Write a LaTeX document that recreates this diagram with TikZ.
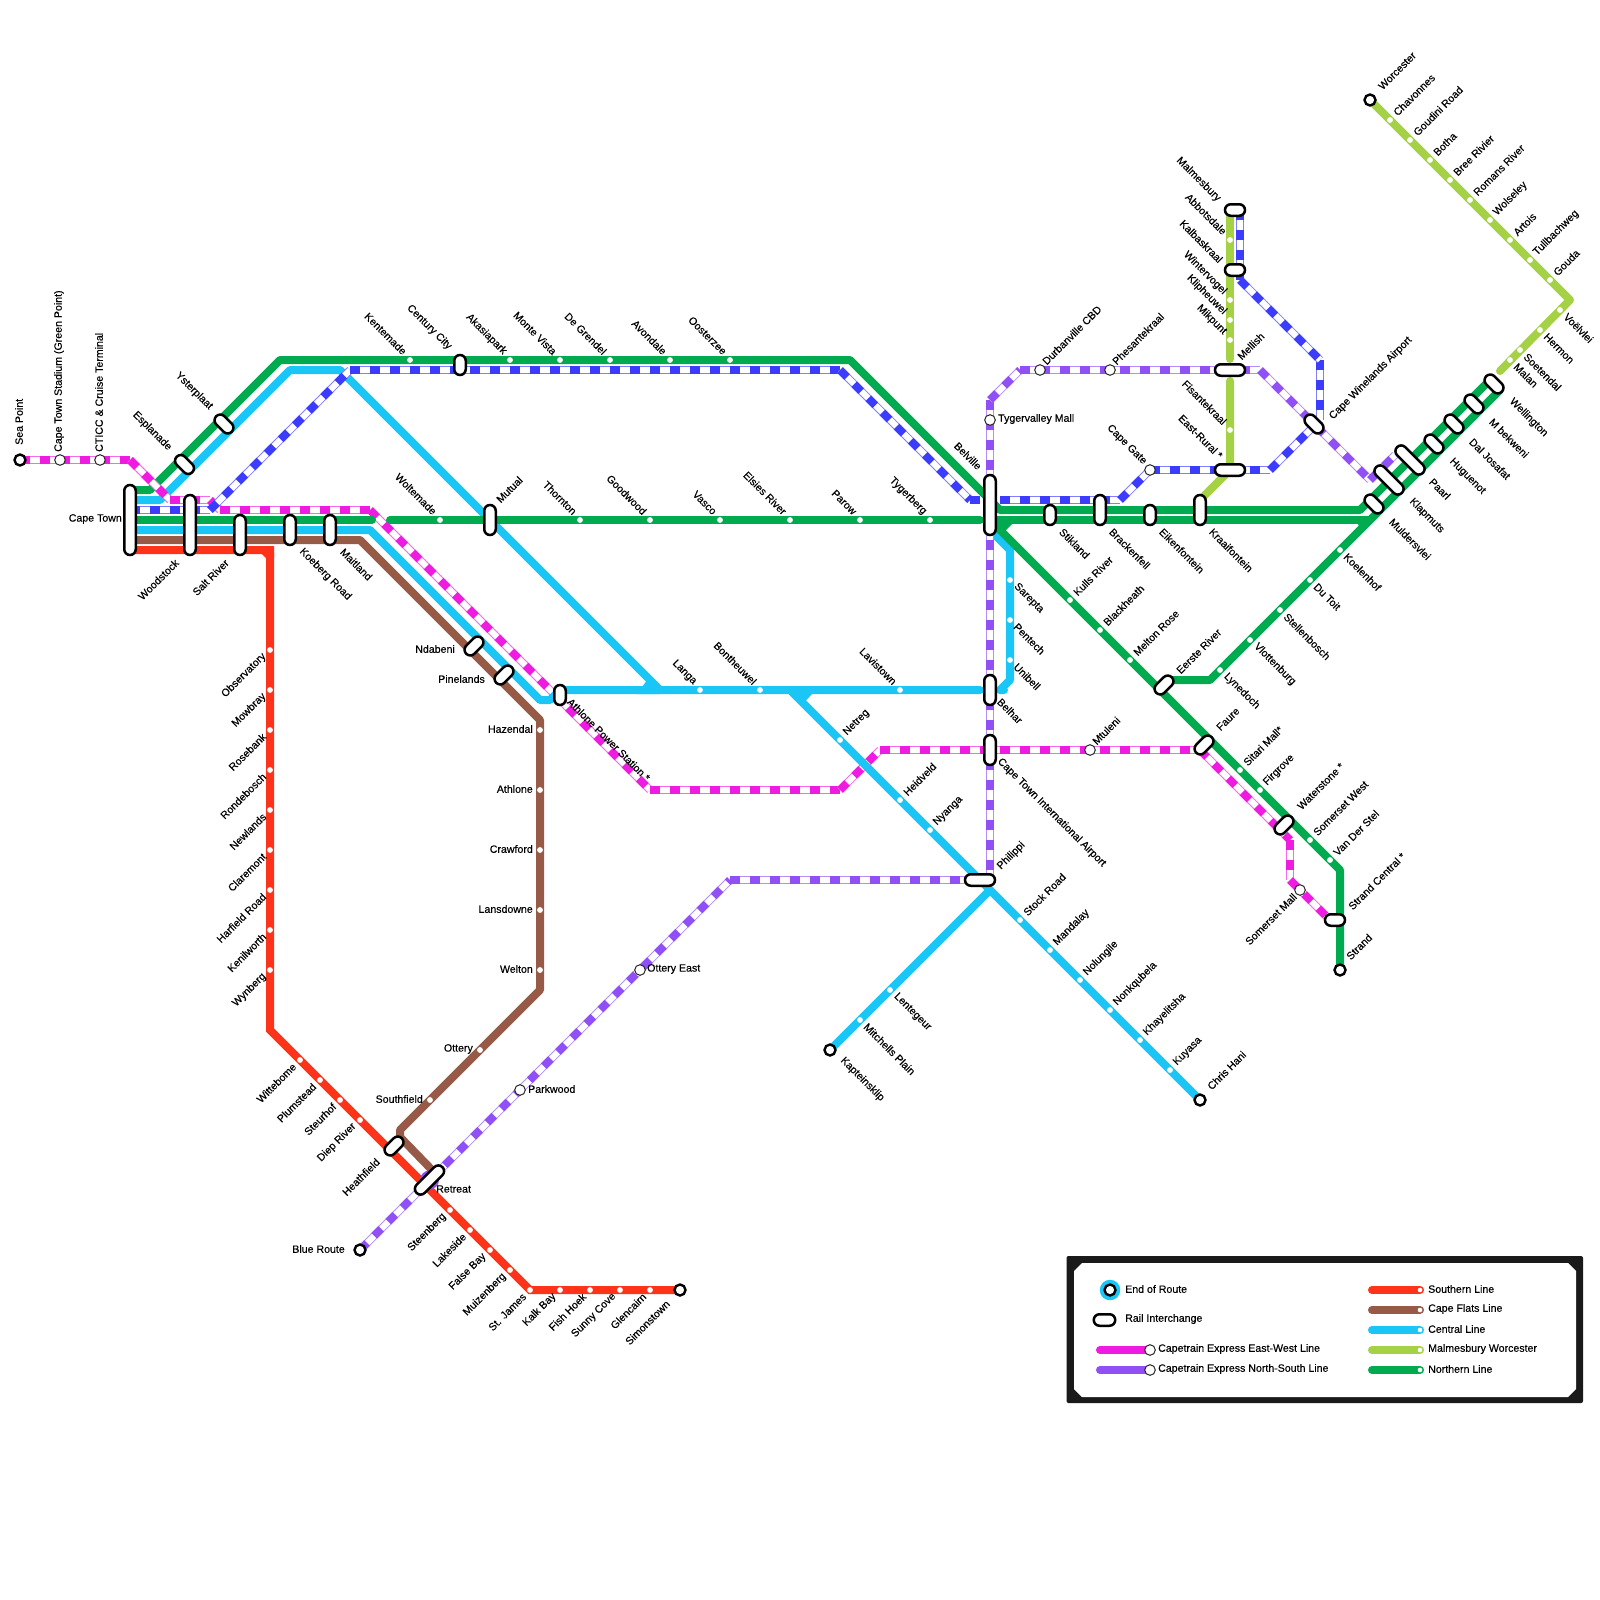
\documentclass[tikz,border=0pt]{standalone}
\usepackage{fontspec}
\setmainfont{Liberation Sans}[FakeBold=0.3]
\usetikzlibrary{shapes.misc}
\definecolor{cRed}{HTML}{FF331A}
\definecolor{cBrown}{HTML}{965A46}
\definecolor{cCyan}{HTML}{1AC6F5}
\definecolor{cLime}{HTML}{A5D145}
\definecolor{cGreen}{HTML}{00AB50}
\definecolor{cMag}{HTML}{F01BE0}
\definecolor{cPur}{HTML}{9150F5}
\definecolor{cBlue}{HTML}{3C3CFF}
\definecolor{cFrame}{HTML}{1A1A1A}
\tikzset{
  railline/.style={draw=#1,line width=8pt,line cap=round,line join=round},
  express/.style={draw=#1,line width=8pt,line cap=butt,dash pattern=on 10pt off 10pt,
    preaction={draw=#1!65,line width=8pt,solid,line cap=butt},
    preaction={draw=white,line width=6pt,solid,line cap=butt}},
  dotst/.style={circle,fill=white,draw=none,minimum size=5.8pt,inner sep=0pt},
  xst/.style={circle,fill=white,draw=black!85,line width=1pt,minimum size=10.6pt,inner sep=0pt},
  termst/.style={circle,fill=white,draw=black,line width=2.4pt,minimum size=11pt,inner sep=0pt},
  ichg/.style={rounded rectangle,draw=black,fill=white,line width=2.5pt,inner sep=0pt,minimum height=11.5pt,minimum width=#1},
  txt/.style={font=\fontsize{10.6}{11}\selectfont,inner sep=0pt,text=black},
  NE/.style={txt,rotate=45,anchor=west},
  NW/.style={txt,rotate=-45,anchor=east},
  SW/.style={txt,rotate=45,anchor=east},
  SE/.style={txt,rotate=-45,anchor=west},
  TR/.style={txt,anchor=west},
  TL/.style={txt,anchor=east},
  UP/.style={txt,rotate=90,anchor=west},
  ne/.style={NE,xshift=7.8pt,yshift=0.7pt},
  nw/.style={NW,xshift=-8.5pt,yshift=1.4pt},
  sw/.style={SW,xshift=-7.4pt,yshift=0.5pt},
  se/.style={SE,xshift=7.4pt,yshift=0.4pt},
  tl/.style={TL,xshift=-7pt,yshift=1pt},
}
\newcommand{\mystn}[5]{\node[dotst] (#1) at (#2,#3) {};\node[#4] (#1-l) at (#1) {#5};}
\newcommand{\myxst}[3]{\node[xst] (#1) at (#2,#3) {};}
\newcommand{\myterm}[3]{\node[termst] (#1) at (#2,#3) {};}
\newcommand{\myic}[5]{\node[ichg=#4pt+2.5pt,rotate=#5] (#1) at (#2,#3) {};}
\newcommand{\mylab}[5]{\node[#4] (#1) at (#2,#3) {#5};}
\begin{document}
\begin{tikzpicture}[x=1pt,y=-1pt]
\useasboundingbox (0,0) rectangle (1600,1600);
% way points
\foreach \n/\x/\y in {
 ga/130/490,gb/150/490,gc/280/360,gd/850/360,ge/1000/510,gf/1360/510,gg/1490/380,
 gh/130/520,gi/372/520,gj/390/520,gk/980/520,gl/1370/520,gm/995/520,gn/990/520,go/1340/870,gp/1340/970,
 gq/1170/680,gr/1210/680,gs/1500/390,
 ca/130/500,cb/160/500,cc/290/370,cd/340/370,ce/660/690,cf/980/690,cg/1004/690,ch/1000/690,ci/1010/680,cj/1010/550,ck/990/530,
 cl/130/530,cm/370/530,cn/540/700,co/550/700,cp/560/690,cq/790/690,cr/1200/1100,cs/990/890,ct/830/1050,
 ba/130/540,bb/360/540,bc/540/720,bd/540/990,be/400/1130,bf/400/1137,bg/432/1170,
 ra/130/550,rb/266/550,rc/270/554,rd/270/1030,re/530/1290,rf/680/1290,
 la/1230/210,lb/1230/359,lc/1230/381,ld/1230/470,le/1200/500,wa/1370/100,wb/1570/300,wc/1500/371,
 ma/20/460,mb/130/460,mc/170/500,md/210/500,me/220/510,mf/370/510,mg/650/790,mh/840/790,mi/880/750,mj/1200/750,mk/1290/840,ml/1290/880,mm/1330/920,
 ua/130/510,ub/210/510,uc/350/370,ud/840/370,ue/970/500,uf/980/500,ug/1000/500,uh/1120/500,ui/1150/470,uj/1270/470,uk/1320/420,ul/1320/360,um/1240/280,un/1240/210,
 pa/360/1250,pb/730/880,pc/990/880,pd/990/400,pe/1020/370,pf/1260/370,pg/1370/480,ph/1395/455}
 {\coordinate (\n) at (\x,\y);}
% express lines under the central crossing
\foreach \a/\b/\c in {ma/mb/cMag,mb/mc/cMag,mc/md/cMag,md/me/cMag,me/mf/cMag,mf/mg/cMag,mg/mh/cMag,mh/mi/cMag,mi/mj/cMag,mj/mk/cMag,mk/ml/cMag,ml/mm/cMag}
 {\path[express=\c] (\a) -- (\b);}
% solid lines
\draw[railline=cRed,line join=miter] (ra) -- (rb) -- (rc) -- (rd) -- (re) -- (rf);
\fill[cRed] (262,546) -- (274,546) -- (274,558) -- (266,558) -- (262,554) -- cycle;
\draw[railline=cBrown] (ba) -- (bb) -- (bc) -- (bd) -- (be) -- (bf) -- (bg);
\draw[railline=cCyan] (ca) -- (cb) -- (cc) -- (cd) -- (ce) -- (cf);
\draw[railline=cCyan] (cg) -- (ch) -- (ci) -- (cj) -- (ck);
\draw[railline=cCyan] (cl) -- (cm) -- (cn) -- (co) -- (cp) -- (ce);
\draw[railline=cCyan] (cq) -- (cr);
\draw[railline=cCyan] (cs) -- (ct);
\fill[cCyan] (637,694) -- (660,694) -- (650,676) -- cycle;
\fill[cCyan] (789,686) -- (812,686) -- (812,694) -- (801,706) -- cycle;
\draw[railline=cLime] (la) -- (lb);
\draw[railline=cLime] (lc) -- (ld) -- (le);
\draw[railline=cLime] (wa) -- (wb) -- (wc);
\draw[railline=cGreen] (ga) -- (gb) -- (gc) -- (gd) -- (ge) -- (gf) -- (gg);
\draw[railline=cGreen] (gh) -- (gi);
\draw[railline=cGreen] (gj) -- (gk);
\draw[railline=cGreen] (gm) -- (gl);
\draw[railline=cGreen] (gn) -- (go) -- (gp);
\draw[railline=cGreen] (gq) -- (gr) -- (gs);
\fill[cGreen] (1352,516) -- (1374,516) -- (1365,530) -- (1362,530) -- cycle;
\fill[cGreen] (998,516) -- (1020,516) -- (1012,524) -- (1003,533) -- (998,528) -- cycle;
% express lines on top
\foreach \a/\b/\c in {ma/mb/cMag,mb/mc/cMag,mc/md/cMag,md/me/cMag,me/mf/cMag,
 ua/ub/cBlue,ub/uc/cBlue,uc/ud/cBlue,ud/ue/cBlue,ue/uf/cBlue,ug/uh/cBlue,uh/ui/cBlue,ui/uj/cBlue,uj/uk/cBlue,ul/uk/cBlue,um/ul/cBlue,un/um/cBlue,
 pa/pb/cPur,pb/pc/cPur,pd/pc/cPur,pd/pe/cPur,pe/pf/cPur,pf/pg/cPur,pg/ph/cPur}
 {\path[express=\c] (\a) -- (\b);}
\fill[cPur] (429.5,1180) circle (9.5pt);
% northern stations
\mystn{kent}{410}{360}{nw}{Kentemade}
\mystn{akas}{510}{360}{nw}{Akasiapark}
\mystn{mont}{560}{360}{nw}{Monte Vista}
\mystn{degr}{610}{360}{nw}{De Grendel}
\mystn{avon}{670}{360}{nw}{Avondale}
\mystn{oost}{730}{360}{nw}{Oosterzee}
\mystn{wolt}{440}{520}{nw}{Woltemade}
\mystn{thor}{580}{520}{nw}{Thornton}
\mystn{good}{650}{520}{nw}{Goodwood}
\mystn{vasc}{720}{520}{nw}{Vasco}
\mystn{elsi}{790}{520}{nw}{Elsies River}
\mystn{paro}{860}{520}{nw}{Parow}
\mystn{tyge}{930}{520}{nw}{Tygerberg}
\mystn{kull}{1070}{600}{ne}{Kulls River}
\mystn{blac}{1100}{630}{ne}{Blackheath}
\mystn{melt}{1130}{660}{ne}{Melton Rose}
\mystn{sita}{1240}{770}{ne}{Sitari Mall*}
\mystn{firg}{1260}{790}{ne}{Firgrove}
\mystn{some}{1310}{840}{ne}{Somerset West}
\mystn{vand}{1330}{860}{ne}{Van Der Stel}
\mystn{koel}{1340}{550}{se}{Koelenhof}
\mystn{duto}{1310}{580}{se}{Du Toit}
\mystn{stel}{1280}{610}{se}{Stellenbosch}
\mystn{vlot}{1250}{640}{se}{Vlottenburg}
\mystn{lyne}{1220}{670}{se}{Lynedoch}
% central stations
\mystn{lang}{700}{690}{nw}{Langa}
\mystn{bont}{760}{690}{nw}{Bontheuwel}
\mystn{lavi}{900}{690}{nw}{Lavistown}
\mystn{sare}{1010}{580}{se}{Sarepta}
\mystn{pent}{1010}{620}{se}{Pentech}
\mystn{unib}{1010}{660}{se}{Unibell}
\mystn{netr}{840}{740}{ne}{Netreg}
\mystn{heid}{900}{800}{ne}{Heidveld}
\mystn{nyan}{930}{830}{ne}{Nyanga}
\mystn{stoc}{1020}{920}{ne}{Stock Road}
\mystn{mand}{1050}{950}{ne}{Mandalay}
\mystn{nolu}{1080}{980}{ne}{Nolungile}
\mystn{nonk}{1110}{1010}{ne}{Nonkqubela}
\mystn{khay}{1140}{1040}{ne}{Khayelitsha}
\mystn{kuya}{1170}{1070}{ne}{Kuyasa}
\mystn{mitc}{860}{1020}{se}{Mitchells Plain}
\mystn{lent}{890}{990}{se}{Lentegeur}
% cape flats stations
\mystn{haze}{540}{730}{tl}{Hazendal}
\mystn{athl}{540}{790}{tl}{Athlone}
\mystn{craw}{540}{850}{tl}{Crawford}
\mystn{lans}{540}{910}{tl}{Lansdowne}
\mystn{welt}{540}{970}{tl}{Welton}
\mystn{otte}{480}{1050}{tl}{Ottery}
\mystn{sout}{430}{1100}{tl}{Southfield}
% southern stations
\mystn{obse}{270}{650}{sw}{Observatory}
\mystn{mowb}{270}{690}{sw}{Mowbray}
\mystn{rose}{270}{730}{sw}{Rosebank}
\mystn{rond}{270}{770}{sw}{Rondebosch}
\mystn{newl}{270}{810}{sw}{Newlands}
\mystn{clar}{270}{850}{sw}{Claremont}
\mystn{harf}{270}{890}{sw}{Harfield Road}
\mystn{keni}{270}{930}{sw}{Kenilworth}
\mystn{wynb}{270}{970}{sw}{Wynberg}
\mystn{witt}{300}{1060}{sw}{Wittebome}
\mystn{plum}{320}{1080}{sw}{Plumstead}
\mystn{steu}{340}{1100}{sw}{Steurhof}
\mystn{diep}{360}{1120}{sw}{Diep River}
\mystn{stee}{450}{1210}{sw}{Steenberg}
\mystn{lake}{470}{1230}{sw}{Lakeside}
\mystn{fals}{490}{1250}{sw}{False Bay}
\mystn{muiz}{510}{1270}{sw}{Muizenberg}
\mystn{stja}{530}{1290}{sw}{St. James}
\mystn{kalk}{560}{1290}{sw}{Kalk Bay}
\mystn{fish}{590}{1290}{sw}{Fish Hoek}
\mystn{sunn}{620}{1290}{sw}{Sunny Cove}
\mystn{glen}{650}{1290}{sw}{Glencairn}
% malmesbury / worcester stations
\mystn{abbo}{1230}{240}{nw}{Abbotsdale}
\mystn{wint}{1230}{300}{nw}{Wintervogel}
\mystn{klip}{1230}{320}{nw}{Klipheuwel}
\mystn{mikp}{1230}{340}{nw}{Mikpunt}
\mystn{fisa}{1230}{430}{nw}{Fisantekraal}
\mystn{chav}{1390}{120}{ne}{Chavonnes}
\mystn{goud}{1410}{140}{ne}{Goudini Road}
\mystn{both}{1430}{160}{ne}{Botha}
\mystn{bree}{1450}{180}{ne}{Bree Rivier}
\mystn{roma}{1470}{200}{ne}{Romans River}
\mystn{wols}{1490}{220}{ne}{Wolseley}
\mystn{arto}{1510}{240}{ne}{Artois}
\mystn{tulb}{1530}{260}{ne}{Tullbachweg}
\mystn{goua}{1550}{280}{ne}{Gouda}
\mystn{voel}{1560}{310}{se}{Voëlvlei}
\mystn{herm}{1540}{330}{se}{Hermon}
\mystn{soet}{1520}{350}{se}{Soetendal}
\mystn{mala}{1510}{360}{se}{Malan}
% express stations
\myxst{capest}{60}{460}
\myxst{cticc}{100}{460}
\myxst{tygv}{990}{420}
\myxst{durb}{1040}{370}
\myxst{phes}{1110}{370}
\myxst{capeg}{1150}{470}
\myxst{mtul}{1090}{750}
\myxst{smal}{1300}{890}
\myxst{otea}{640}{970}
\myxst{park}{520}{1090}
% terminals
\myterm{seap}{20}{460}
\myterm{simo}{680}{1290}
\myterm{blro}{360}{1250}
\myterm{stra}{1340}{970}
\myterm{kapt}{830}{1050}
\myterm{chri}{1200}{1100}
\myterm{worc}{1370}{100}
% interchanges
\myic{capet}{130}{520}{67.5}{90}
\myic{wood}{190}{525}{57.5}{90}
\myic{salt}{240}{535}{37.5}{90}
\myic{koeb}{290}{530}{27.5}{90}
\myic{mait}{330}{530}{27.5}{90}
\myic{cent}{460}{365}{17.5}{90}
\myic{mutu}{490}{520}{27.5}{90}
\myic{belv}{990}{505}{57.5}{90}
\myic{stik}{1050}{515}{17.5}{90}
\myic{brac}{1100}{510}{27.5}{90}
\myic{eike}{1150}{515}{17.5}{90}
\myic{krai}{1200}{510}{27.5}{90}
\myic{belh}{990}{690}{27.5}{90}
\myic{ctia}{990}{750}{27.5}{90}
\myic{apow}{560}{695}{17.5}{90}
\myic{malm}{1235}{210}{17.5}{0}
\myic{kalb}{1235}{270}{17.5}{0}
\myic{mell}{1230}{370}{27.5}{0}
\myic{east}{1230}{470}{27.5}{0}
\myic{phil}{980}{880}{27.5}{0}
\myic{scen}{1335}{920}{17.5}{0}
\myic{espl}{184.5}{464.5}{19.5}{-45}
\myic{yste}{224}{424}{19.5}{-45}
\myic{ndab}{474}{646}{19.5}{45}
\myic{pine}{504}{675}{19.5}{45}
\myic{heat}{394}{1146}{19.5}{45}
\myic{retr}{429.5}{1180}{34}{45}
\myic{eers}{1164}{685}{19.5}{45}
\myic{faur}{1204}{745}{19.5}{45}
\myic{wate}{1284}{825}{19.5}{45}
\myic{cwin}{1314}{424}{19.5}{-45}
\myic{muld}{1374}{504}{19.5}{-45}
\myic{klap}{1389}{480}{34}{-45}
\myic{paar}{1410}{460}{34}{-45}
\myic{hugu}{1434}{444}{19.5}{-45}
\myic{dalj}{1454}{424}{19.5}{-45}
\myic{mbek}{1474}{404}{19.5}{-45}
\myic{well}{1494}{384}{19.5}{-45}
% labels placed by hand
\mylab{t01}{19}{445}{UP}{Sea Point}
\mylab{t02}{59}{452}{UP}{Cape Town Stadium (Green Point)}
\mylab{t03}{99}{452}{UP}{CTICC \& Cruise Terminal}
\mylab{t04}{170}{449}{NW}{Esplanade}
\mylab{t05}{211}{408}{NW}{Ysterplaat}
\mylab{t06}{450}{348}{NW}{Century City}
\mylab{t07}{122}{519}{TL}{Cape Town}
\mylab{t08}{177}{561}{SW}{Woodstock}
\mylab{t09}{227}{561}{SW}{Salt River}
\mylab{t10}{301}{550}{SE}{Koeberg Road}
\mylab{t11}{342}{550}{SE}{Maitland}
\mylab{t12}{498}{501}{NE}{Mutual}
\mylab{t13}{980}{468}{NW}{Belville}
\mylab{t14}{1061}{530}{SE}{Stikland}
\mylab{t15}{1111}{530}{SE}{Brackenfell}
\mylab{t16}{1161}{530}{SE}{Eikenfontein}
\mylab{t17}{1211}{530}{SE}{Kraaifontein}
\mylab{t18}{1391}{520}{SE}{Muldersvlei}
\mylab{t19}{1411}{500}{SE}{Klapmuts}
\mylab{t20}{1431}{480}{SE}{Paarl}
\mylab{t21}{1451}{460}{SE}{Huguenot}
\mylab{t22}{1471}{440}{SE}{Dal Josafat}
\mylab{t23}{1491}{420}{SE}{M bekweni}
\mylab{t24}{1511}{400}{SE}{Wellington}
\mylab{t25}{1380}{88}{NE}{Worcester}
\mylab{t26}{1331}{418}{NE}{Cape Winelands Airport}
\mylab{t27}{1219}{200}{NW}{Malmesbury}
\mylab{t28}{1221}{261}{NW}{Kalbaskraal}
\mylab{t29}{1239}{358}{NE}{Mellish}
\mylab{t30}{1221}{457}{NW}{East-Rural *}
\mylab{t31}{1145}{463}{NW}{Cape Gate}
\mylab{t32}{1044}{363}{NE}{Durbanville CBD}
\mylab{t33}{1114}{363}{NE}{Phesantekraal}
\mylab{t34}{998}{419}{TR}{Tygervalley Mall}
\mylab{t35}{1178}{672}{NE}{Eerste River}
\mylab{t36}{1218}{729}{NE}{Faure}
\mylab{t37}{1299}{808}{NE}{Waterstone *}
\mylab{t38}{1350}{908}{NE}{Strand Central *}
\mylab{t39}{1348}{958}{NE}{Strand}
\mylab{t40}{1295}{895}{SW}{Somerset Mall}
\mylab{t41}{999}{700}{SE}{Belhar}
\mylab{t42}{999}{760}{SE}{Cape Town International Airport}
\mylab{t43}{999}{868}{NE}{Philippi}
\mylab{t44}{569}{700}{SE}{Athlone Power Station *}
\mylab{t45}{842}{1059}{SE}{Kapteinsklip}
\mylab{t46}{1209}{1088}{NE}{Chris Hani}
\mylab{t47}{455}{649}{TL}{Ndabeni}
\mylab{t48}{485}{679}{TL}{Pinelands}
\mylab{t49}{378}{1160}{SW}{Heathfield}
\mylab{t50}{436}{1189}{TR}{Retreat}
\mylab{t51}{528}{1089}{TR}{Parkwood}
\mylab{t52}{647}{969}{TR}{Ottery East}
\mylab{t53}{345}{1249}{TL}{Blue Route}
\mylab{t54}{668}{1302}{SW}{Simonstown}
\mylab{t55}{1094}{743}{NE}{Mtuleni}
% legend
\fill[cFrame,rounded corners=2pt] (1066.5,1256) rectangle (1583,1403);
\fill[white] (1082,1263) -- (1568,1263) -- (1576,1271) -- (1576,1389) -- (1568,1397) -- (1082,1397) -- (1074,1389) -- (1074,1271) -- cycle;
\node[circle,fill=cCyan,minimum size=20.5pt,inner sep=0pt] (legring) at (1110,1290) {};
\myterm{legterm}{1110}{1290}
\mylab{lt1}{1125}{1289}{TR}{End of Route}
\myic{legic}{1104.5}{1320}{19}{0}
\mylab{lt2}{1125}{1319}{TR}{Rail Interchange}
\coordinate (lma) at (1100,1350);\coordinate (lmb) at (1150,1350);
\coordinate (lpa) at (1100,1370);\coordinate (lpb) at (1150,1370);
\draw[railline=cMag] (lma) -- (lmb);
\draw[railline=cPur] (lpa) -- (lpb);
\myxst{legx1}{1150}{1350}
\myxst{legx2}{1150}{1370}
\mylab{lt3}{1158}{1349}{TR}{Capetrain Express East-West Line}
\mylab{lt4}{1158}{1369}{TR}{Capetrain Express North-South Line}
\foreach \i/\c/\y/\t in {1/cRed/1290/Southern Line,2/cBrown/1310/Cape Flats Line,3/cCyan/1330/Central Line,4/cLime/1350/Malmesbury Worcester,5/cGreen/1370/Northern Line}{
  \coordinate (lsa\i) at (1372,\y);\coordinate (lsb\i) at (1420,\y);
  \draw[railline=\c] (lsa\i) -- (lsb\i);
  \node[dotst,minimum size=4.6pt] (lsd\i) at (lsb\i) {};
  \node[TR] (lst\i) at (1428,\y-1) {\t};
}
\end{tikzpicture}
\end{document}
